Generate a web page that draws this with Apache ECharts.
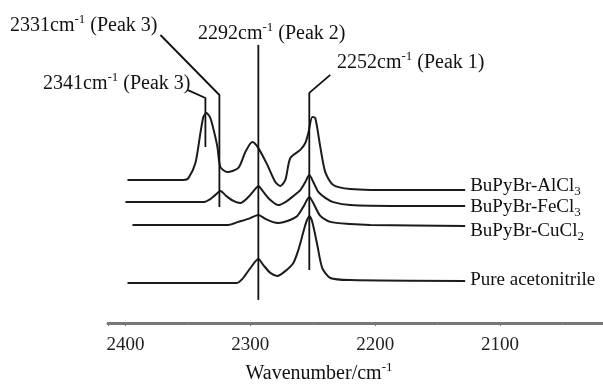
<!DOCTYPE html>
<html>
<head>
<meta charset="utf-8">
<script src="https://cdn.jsdelivr.net/npm/echarts@6/dist/echarts.min.js"></script>
<style>
  html, body { margin: 0; padding: 0; background: #fff; }
  #chart { width: 603px; height: 384px; }
</style>
</head>
<body>
<div id="chart"></div>
<script>
// IR spectra, [wavenumber (cm-1), absorbance (a.u., offset per trace)]
const alcl3 = [
  [2398.4, 47.7], [2353.6, 47.7], [2349.6, 48.3], [2344, 53.3], [2340, 63.3],
  [2337.6, 68.7], [2335.2, 70], [2332, 68.3], [2328.8, 63.3], [2326.4, 58.7],
  [2324, 52], [2318.4, 50.3], [2309.6, 51.7], [2304, 57], [2298.4, 60.3],
  [2293.6, 58.3], [2286.4, 52.7], [2280, 47], [2276, 45.7], [2272, 47.7],
  [2268, 55], [2260, 57.7], [2256, 60], [2253.6, 63.3], [2250.4, 68.7],
  [2248, 68.3], [2244, 58.7], [2240, 50.3], [2233.6, 46], [2220, 44.7],
  [2180, 44.3], [2128, 44.3]
];
const fecl3 = [
  [2400, 40.3], [2337.6, 40.3], [2332, 41.3], [2328, 42.7], [2324, 44],
  [2319.2, 42.3], [2313.6, 40.7], [2308, 40], [2301.6, 42], [2296, 44.7],
  [2293.6, 45.7], [2289.6, 43.7], [2284, 41], [2277.6, 39.3], [2272, 40.3],
  [2265.6, 42.3], [2260, 44.3], [2256, 47], [2252.8, 49.3], [2249.6, 47],
  [2245.6, 43.7], [2240, 41.7], [2233.6, 40.3], [2220, 39.3], [2180, 39],
  [2128, 39]
];
const cucl2 = [
  [2394.4, 32.7], [2317.6, 32.7], [2309.6, 33.7], [2301.6, 34.7], [2293.6, 36],
  [2288, 34.7], [2282.4, 33.7], [2277.6, 33.3], [2270.4, 34], [2262.4, 35.7],
  [2257.6, 38.7], [2252.8, 42], [2249.6, 40], [2244, 35.7], [2236, 33.7],
  [2220, 33], [2204, 32.7], [2128, 32.3]
];
const pure = [
  [2398.4, 13.3], [2311.2, 13.3], [2306.4, 14.7], [2300, 18.3], [2293.6, 21.3],
  [2289.6, 19.3], [2284, 16.7], [2278.4, 15.7], [2272, 17.3], [2265.6, 20],
  [2261.6, 24.3], [2257.6, 30.3], [2255.2, 33.7], [2252.8, 35.7], [2250.4, 33.7],
  [2246.4, 26], [2242.4, 18.3], [2236, 15], [2220, 14.3], [2128, 14]
];

const traceNames = ['BuPyBr-AlCl{sub|3}', 'BuPyBr-FeCl{sub|3}', 'BuPyBr-CuCl{sub|2}', 'Pure acetonitrile'];
const traceData = [alcl3, fecl3, cucl2, pure];
const labelOffsets = [[0, -4], [0, 1], [0, 5], [0, -1]];

// peak marker lines (leader + vertical drop), in data coordinates
const peakPaths = [
  [[2350.4, 77.7], [2336, 75], [2336, 58.7]],
  [[2372, 96], [2324.8, 76], [2324.8, 38.7]],
  [[2293.6, 92.7], [2293.6, 7.7]],
  [[2236, 82.7], [2252.8, 76.7], [2252.8, 17.7]]
];
const peakLabels = [
  { text: '2341cm{sup|-1} (Peak 3)', left: 43, top: 71 },
  { text: '2331cm{sup|-1} (Peak 3)', left: 10, top: 13 },
  { text: '2292cm{sup|-1} (Peak 2)', left: 198, top: 21 },
  { text: '2252cm{sup|-1} (Peak 1)', left: 337, top: 50 }
];

const serif = 'Liberation Serif, Times New Roman, serif';
const supRich = { sup: { fontSize: 13, lineHeight: 13, verticalAlign: 'top', fontFamily: serif, color: '#111' } };
const subRich = { sub: { fontSize: 13, lineHeight: 13, verticalAlign: 'bottom', fontFamily: serif, color: '#111' } };

const chart = echarts.init(document.getElementById('chart'), null, { renderer: 'canvas' });

const series = traceData.map((d, i) => ({
  name: traceNames[i],
  type: 'line',
  data: d,
  smooth: 0.25,
  symbol: 'none',
  lineStyle: { color: '#1c1c1c', width: 2 },
  endLabel: {
    show: true,
    formatter: traceNames[i],
    align: 'left',
    // x axis is inverted, so a negative distance pushes the label to the right
    distance: -5,
    offset: labelOffsets[i],
    fontFamily: serif,
    fontSize: 19,
    lineHeight: 24,
    color: '#111',
    rich: subRich
  },
  z: 2
}));

peakPaths.forEach((p) => {
  series.push({
    type: 'line',
    data: p,
    smooth: false,
    symbol: 'none',
    lineStyle: { color: '#111', width: 1.8 },
    z: 3,
    silent: true
  });
});

const option = {
  animation: false,
  backgroundColor: '#fff',
  grid: {
    left: 108,
    right: -22,
    top: 23,
    bottom: 61,
    containLabel: false,
    outerBoundsMode: 'none'
  },
  xAxis: {
    type: 'value',
    inverse: true,
    min: 2000,
    max: 2414,
    interval: 100,
    name: 'Wavenumber/cm{sup|-1}',
    nameLocation: 'middle',
    nameGap: 38,
    nameTextStyle: {
      fontFamily: serif,
      fontSize: 20,
      lineHeight: 26,
      color: '#111',
      padding: [0, 95, 0, 0],
      rich: supRich
    },
    axisLine: { lineStyle: { color: '#777', width: 3 } },
    axisTick: { show: true, length: 3, lineStyle: { color: '#777', width: 1 } },
    minorTick: { show: true, splitNumber: 2, length: 2, lineStyle: { color: '#888' } },
    splitLine: { show: false },
    axisLabel: {
      showMinLabel: false,
      showMaxLabel: false,
      margin: 13,
      fontFamily: serif,
      fontSize: 19,
      color: '#222',
      formatter: (v) => String(v)
    }
  },
  yAxis: {
    type: 'value',
    show: false,
    min: 0,
    max: 100
  },
  graphic: peakLabels.map((l) => ({
    type: 'text',
    left: l.left,
    top: l.top,
    style: {
      text: l.text,
      fontFamily: serif,
      fontSize: 20,
      lineHeight: 26,
      fill: '#111',
      rich: supRich
    }
  })),
  series: series
};

chart.setOption(option);
</script>
</body>
</html>
